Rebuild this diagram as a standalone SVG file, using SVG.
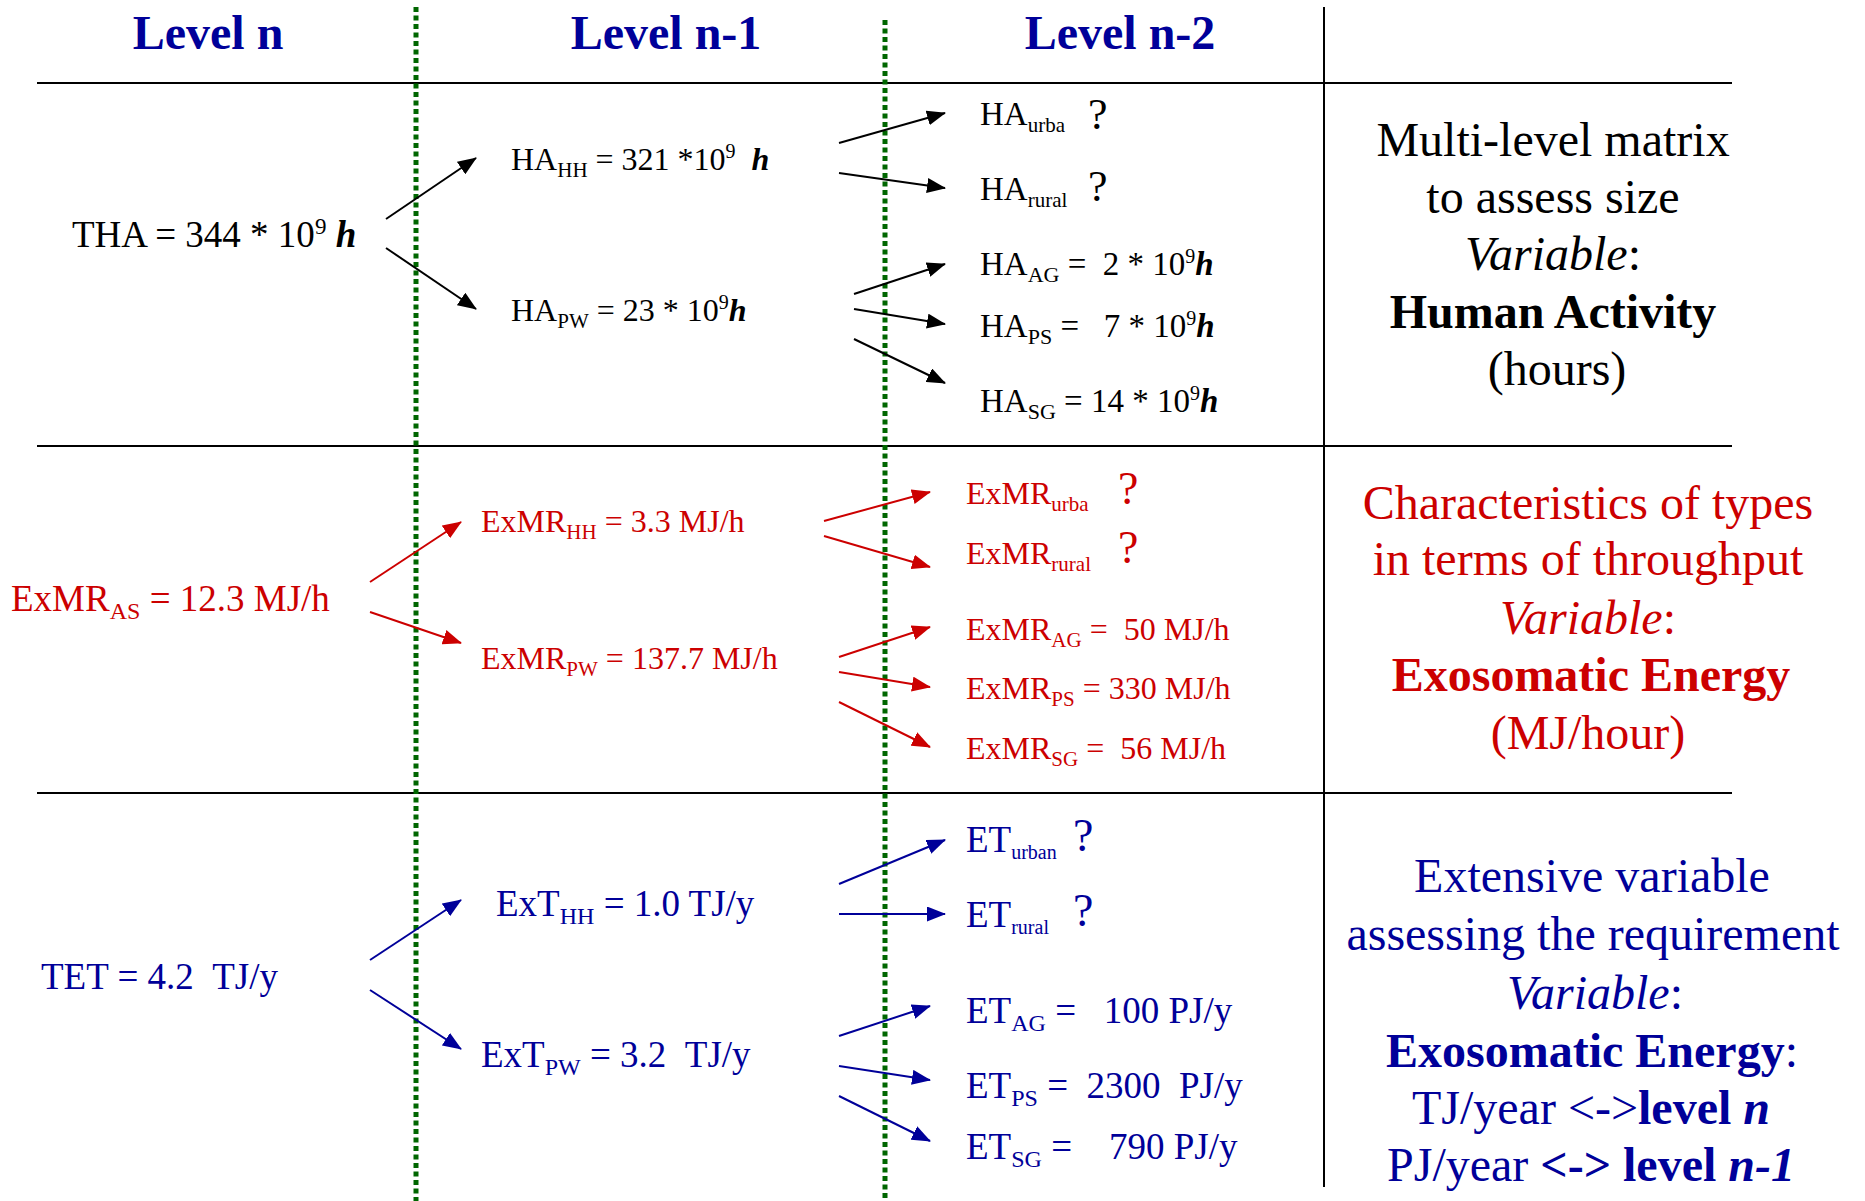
<svg xmlns="http://www.w3.org/2000/svg" width="1865" height="1201" viewBox="0 0 1865 1201">
<defs>
<style>
text{font-family:"Liberation Serif","Times New Roman",serif;}
.k{fill:#000;}
.r{fill:#CC0000;}
.b{fill:#000099;}
.bi{font-weight:bold;font-style:italic;}
.bd{font-weight:bold;}
.it{font-style:italic;}
.grid{stroke:#000;stroke-width:2;fill:none;}
.dot{stroke:#006600;stroke-width:5;stroke-dasharray:5 3.5;fill:none;}
.ak{stroke:#000;stroke-width:2;fill:none;marker-end:url(#mk);}
.ar{stroke:#CC0000;stroke-width:2;fill:none;marker-end:url(#mr);}
.ab{stroke:#000099;stroke-width:2;fill:none;marker-end:url(#mb);}
.title{font-weight:bold;font-size:48px;fill:#000099;text-anchor:middle;}
.side{font-size:48px;text-anchor:middle;}
</style>
<marker id="mk" markerUnits="userSpaceOnUse" markerWidth="19" markerHeight="15" refX="18" refY="7.5" orient="auto"><path d="M0,0 L19,7.5 L0,15 z" fill="#000"/></marker>
<marker id="mr" markerUnits="userSpaceOnUse" markerWidth="19" markerHeight="15" refX="18" refY="7.5" orient="auto"><path d="M0,0 L19,7.5 L0,15 z" fill="#CC0000"/></marker>
<marker id="mb" markerUnits="userSpaceOnUse" markerWidth="19" markerHeight="15" refX="18" refY="7.5" orient="auto"><path d="M0,0 L19,7.5 L0,15 z" fill="#000099"/></marker>
</defs>
<rect width="1865" height="1201" fill="#fff"/>

<g id="grid">
<line class="grid" x1="37" y1="83" x2="1732" y2="83"/>
<line class="grid" x1="37" y1="446" x2="1732" y2="446"/>
<line class="grid" x1="37" y1="793" x2="1732" y2="793"/>
<line class="grid" x1="1324" y1="7" x2="1324" y2="1187"/>
<line class="dot" x1="416" y1="7" x2="416" y2="1201"/>
<line class="dot" x1="885" y1="20" x2="885" y2="1201"/>
</g>

<g id="titles">
<text id="title-n" class="title" x="208" y="49">Level n</text>
<text id="title-n1" class="title" x="666" y="49">Level n-1</text>
<text id="title-n2" class="title" x="1120" y="49">Level n-2</text>
</g>

<g id="connectors">
<line class="ak" x1="386" y1="219" x2="476" y2="158"/>
<line class="ak" x1="386" y1="248" x2="476" y2="309"/>
<line class="ak" x1="839" y1="143" x2="945" y2="113"/>
<line class="ak" x1="839" y1="173" x2="945" y2="188"/>
<line class="ak" x1="854" y1="294" x2="945" y2="264"/>
<line class="ak" x1="854" y1="309" x2="945" y2="324"/>
<line class="ak" x1="854" y1="339" x2="945" y2="383"/>

<line class="ar" x1="370" y1="582" x2="461" y2="522"/>
<line class="ar" x1="370" y1="612" x2="461" y2="643"/>
<line class="ar" x1="824" y1="521" x2="930" y2="492"/>
<line class="ar" x1="824" y1="536" x2="930" y2="567"/>
<line class="ar" x1="839" y1="657" x2="930" y2="627"/>
<line class="ar" x1="839" y1="672" x2="930" y2="687"/>
<line class="ar" x1="839" y1="702" x2="930" y2="747"/>

<line class="ab" x1="370" y1="960" x2="461" y2="900"/>
<line class="ab" x1="370" y1="990" x2="461" y2="1049"/>
<line class="ab" x1="839" y1="884" x2="945" y2="840"/>
<line class="ab" x1="839" y1="914" x2="945" y2="914"/>
<line class="ab" x1="839" y1="1036" x2="930" y2="1006"/>
<line class="ab" x1="839" y1="1066" x2="930" y2="1080"/>
<line class="ab" x1="839" y1="1096" x2="930" y2="1141"/>
</g>

<!-- Row 1: Human Activity -->
<g id="node-THA"><text class="k" x="72" y="247" font-size="37">THA = 344 * 10<tspan font-size="23" dy="-13">9</tspan><tspan dy="13" class="bi"> h</tspan></text></g>
<g id="node-HA-HH"><text class="k" x="511" y="170" font-size="32">HA<tspan font-size="21" dy="7">HH</tspan><tspan dy="-7"> = 321 *10</tspan><tspan font-size="20" dy="-12">9</tspan><tspan dy="12">&#160; </tspan><tspan class="bi">h</tspan></text></g>
<g id="node-HA-PW"><text class="k" x="511" y="321" font-size="32">HA<tspan font-size="21" dy="7">PW</tspan><tspan dy="-7"> = 23 * 10</tspan><tspan font-size="20" dy="-12">9</tspan><tspan dy="12" class="bi">h</tspan></text></g>
<g id="node-HA-urba"><text class="k" x="980" y="125" font-size="33">HA<tspan font-size="21" dy="7">urba</tspan></text><text class="k" x="1088" y="129" font-size="44">?</text></g>
<g id="node-HA-rural"><text class="k" x="980" y="200" font-size="33">HA<tspan font-size="21" dy="7">rural</tspan></text><text class="k" x="1088" y="201" font-size="44">?</text></g>
<g id="node-HA-AG"><text class="k" x="980" y="275" font-size="33">HA<tspan font-size="22" dy="7">AG</tspan><tspan dy="-7"> = &#160;2 * 10</tspan><tspan font-size="20" dy="-12">9</tspan><tspan dy="12" class="bi">h</tspan></text></g>
<g id="node-HA-PS"><text class="k" x="980" y="337" font-size="33">HA<tspan font-size="22" dy="7">PS</tspan><tspan dy="-7"> = &#160; 7 * 10</tspan><tspan font-size="20" dy="-12">9</tspan><tspan dy="12" class="bi">h</tspan></text></g>
<g id="node-HA-SG"><text class="k" x="980" y="412" font-size="33">HA<tspan font-size="22" dy="7">SG</tspan><tspan dy="-7"> = 14 * 10</tspan><tspan font-size="20" dy="-12">9</tspan><tspan dy="12" class="bi">h</tspan></text></g>
<g id="label-row1">
<text class="k side" x="1553" y="156">Multi-level matrix</text>
<text class="k side" x="1553" y="213">to assess size</text>
<text class="k side" x="1553" y="270"><tspan class="it">Variable</tspan>:</text>
<text class="k side bd" x="1553" y="328">Human Activity</text>
<text class="k side" x="1557" y="385">(hours)</text>
</g>

<!-- Row 2: Exosomatic metabolic rate -->
<g id="node-ExMR-AS"><text class="r" x="11" y="611" font-size="37">ExMR<tspan font-size="24" dy="8">AS</tspan><tspan dy="-8"> = 12.3 MJ/h</tspan></text></g>
<g id="node-ExMR-HH"><text class="r" x="481" y="532" font-size="32">ExMR<tspan font-size="21" dy="7">HH</tspan><tspan dy="-7"> = 3.3 MJ/h</tspan></text></g>
<g id="node-ExMR-PW"><text class="r" x="481" y="669" font-size="32">ExMR<tspan font-size="21" dy="7">PW</tspan><tspan dy="-7"> = 137.7 MJ/h</tspan></text></g>
<g id="node-ExMR-urba"><text class="r" x="966" y="504" font-size="32">ExMR<tspan font-size="21" dy="7">urba</tspan></text><text class="r" x="1118" y="504" font-size="46">?</text></g>
<g id="node-ExMR-rural"><text class="r" x="966" y="564" font-size="32">ExMR<tspan font-size="21" dy="7">rural</tspan></text><text class="r" x="1118" y="563" font-size="46">?</text></g>
<g id="node-ExMR-AG"><text class="r" x="966" y="640" font-size="32">ExMR<tspan font-size="21" dy="7">AG</tspan><tspan dy="-7"> = &#160;50 MJ/h</tspan></text></g>
<g id="node-ExMR-PS"><text class="r" x="966" y="699" font-size="32">ExMR<tspan font-size="21" dy="7">PS</tspan><tspan dy="-7"> = 330 MJ/h</tspan></text></g>
<g id="node-ExMR-SG"><text class="r" x="966" y="759" font-size="32">ExMR<tspan font-size="21" dy="7">SG</tspan><tspan dy="-7"> = &#160;56 MJ/h</tspan></text></g>
<g id="label-row2">
<text class="r side" x="1588" y="519">Characteristics of types</text>
<text class="r side" x="1588" y="575">in terms of throughput</text>
<text class="r side" x="1588" y="634"><tspan class="it">Variable</tspan>:</text>
<text class="r side bd" x="1591" y="691">Exosomatic Energy</text>
<text class="r side" x="1588" y="749">(MJ/hour)</text>
</g>

<!-- Row 3: Exosomatic throughput -->
<g id="node-TET"><text class="b" x="41" y="989" font-size="37">TET = 4.2 &#160;TJ/y</text></g>
<g id="node-ExT-HH"><text class="b" x="496" y="916" font-size="37">ExT<tspan font-size="24" dy="8">HH</tspan><tspan dy="-8"> = 1.0 TJ/y</tspan></text></g>
<g id="node-ExT-PW"><text class="b" x="481" y="1067" font-size="37">ExT<tspan font-size="24" dy="8">PW</tspan><tspan dy="-8"> = 3.2 &#160;TJ/y</tspan></text></g>
<g id="node-ET-urban"><text class="b" x="966" y="852" font-size="37">ET<tspan font-size="20" dy="7">urban</tspan></text><text class="b" x="1073" y="851" font-size="46">?</text></g>
<g id="node-ET-rural"><text class="b" x="966" y="927" font-size="37">ET<tspan font-size="20" dy="7">rural</tspan></text><text class="b" x="1073" y="926" font-size="46">?</text></g>
<g id="node-ET-AG"><text class="b" x="966" y="1023" font-size="37">ET<tspan font-size="24" dy="8">AG</tspan><tspan dy="-8"> = &#160; 100 PJ/y</tspan></text></g>
<g id="node-ET-PS"><text class="b" x="966" y="1098" font-size="37">ET<tspan font-size="24" dy="8">PS</tspan><tspan dy="-8"> = &#160;2300 &#160;PJ/y</tspan></text></g>
<g id="node-ET-SG"><text class="b" x="966" y="1159" font-size="37">ET<tspan font-size="24" dy="8">SG</tspan><tspan dy="-8"> = &#160; &#160;790 PJ/y</tspan></text></g>
<g id="label-row3">
<text class="b side" x="1592" y="892">Extensive variable</text>
<text class="b side" x="1593" y="950">assessing the requirement</text>
<text class="b side" x="1595" y="1009"><tspan class="it">Variable</tspan>:</text>
<text class="b side" x="1592" y="1067"><tspan class="bd">Exosomatic Energy</tspan>:</text>
<text class="b side" x="1591" y="1124">TJ/year &lt;-&gt;<tspan class="bd">level </tspan><tspan class="bi">n</tspan></text>
<text class="b side" x="1591" y="1181">PJ/year <tspan class="bd">&lt;-&gt; level </tspan><tspan class="bi">n-1</tspan></text>
</g>
</svg>
